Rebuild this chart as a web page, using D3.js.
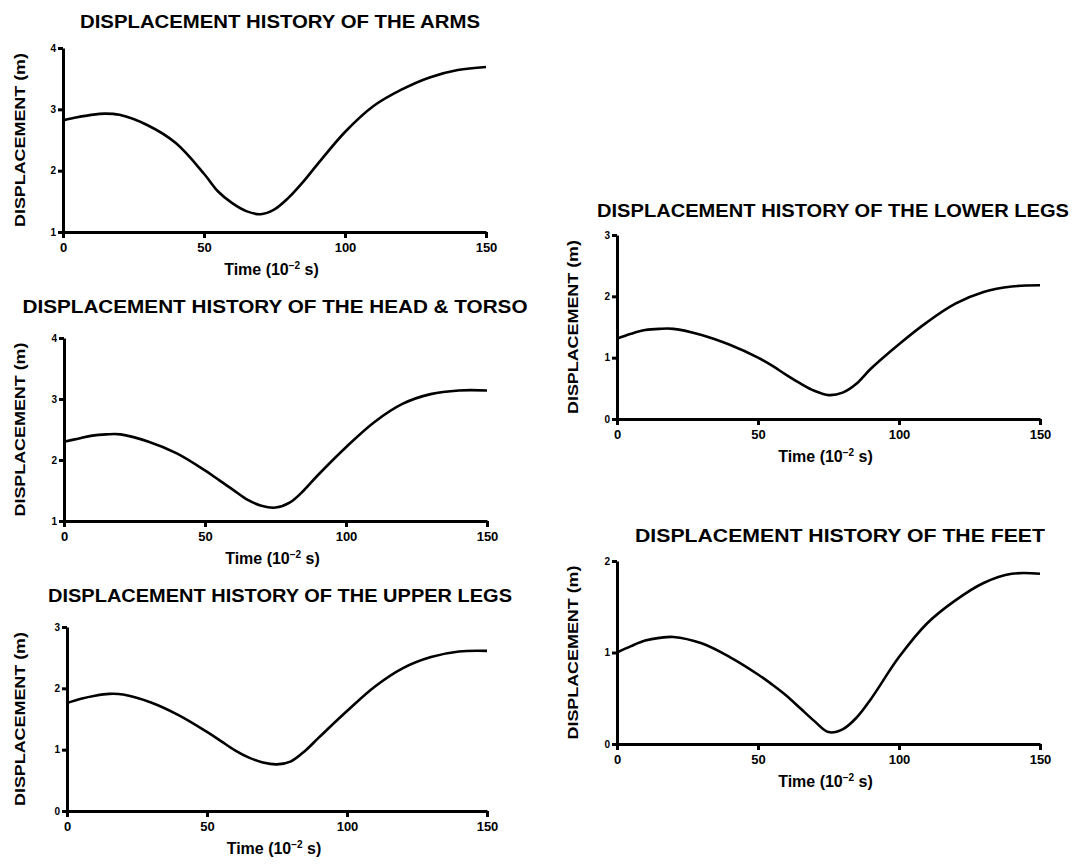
<!DOCTYPE html>
<html>
<head>
<meta charset="utf-8">
<script src="https://cdn.jsdelivr.net/npm/d3@7"></script>
<style>
  body { margin: 0; background: #fff; }
  svg { display: block; }
  text { font-family: "Liberation Sans", Arial, sans-serif; font-weight: bold; fill: #000; }
  .axis path.domain, .axis .tick line { stroke: #000; stroke-width: 3px; }
</style>
</head>
<body>
<div id="chart"></div>
<script>
// time samples (10^-2 s), shared by all five curves
const times = [0, 5, 10, 15, 20, 30, 40, 50, 55, 60, 65, 70, 75, 80, 85, 90, 100, 110, 120, 130, 140, 150];

// displacement (m)
const arms      = [2.82, 2.87, 2.91, 2.93, 2.91, 2.74, 2.45, 1.95, 1.66, 1.47, 1.34, 1.29, 1.37, 1.56, 1.81, 2.09, 2.63, 3.05, 3.32, 3.52, 3.64, 3.69];
const headTorso = [2.30, 2.35, 2.40, 2.42, 2.42, 2.30, 2.11, 1.83, 1.67, 1.51, 1.35, 1.25, 1.22, 1.30, 1.50, 1.75, 2.21, 2.62, 2.92, 3.08, 3.14, 3.14];
const upperLegs = [1.76, 1.83, 1.88, 1.91, 1.90, 1.77, 1.56, 1.29, 1.14, 0.99, 0.87, 0.79, 0.76, 0.81, 0.98, 1.20, 1.63, 2.03, 2.33, 2.51, 2.60, 2.61];
const lowerLegs = [1.31, 1.39, 1.45, 1.47, 1.47, 1.37, 1.21, 1.00, 0.87, 0.72, 0.58, 0.46, 0.39, 0.43, 0.58, 0.82, 1.22, 1.58, 1.88, 2.07, 2.16, 2.18];
const feet      = [1.00, 1.07, 1.13, 1.16, 1.17, 1.10, 0.95, 0.76, 0.65, 0.53, 0.39, 0.25, 0.13, 0.16, 0.29, 0.49, 0.95, 1.32, 1.57, 1.76, 1.86, 1.86];

const xTicks = [0, 50, 100, 150];

// panel layout: pixel boxes for each small chart
const panels = [
  { title: "DISPLACEMENT HISTORY OF THE ARMS", values: arms, yDom: [1, 4],
    x0: 63, x1: 486, yB: 232, yT: 48, tx: 280, ty: 28, tw: 400, lx: 20 },
  { title: "DISPLACEMENT HISTORY OF THE HEAD & TORSO", values: headTorso, yDom: [1, 4],
    x0: 64, x1: 487, yB: 521, yT: 338, tx: 275, ty: 313, tw: 505, lx: 20 },
  { title: "DISPLACEMENT HISTORY OF THE UPPER LEGS", values: upperLegs, yDom: [0, 3],
    x0: 67, x1: 487, yB: 811, yT: 627, tx: 280, ty: 602, tw: 464, lx: 20 },
  { title: "DISPLACEMENT HISTORY OF THE LOWER LEGS", values: lowerLegs, yDom: [0, 3],
    x0: 617, x1: 1040, yB: 419, yT: 235, tx: 833, ty: 217, tw: 472, lx: 573 },
  { title: "DISPLACEMENT HISTORY OF THE FEET", values: feet, yDom: [0, 2],
    x0: 617, x1: 1040, yB: 744, yT: 561, tx: 840, ty: 542, tw: 410, lx: 573 }
];

const W = 1082, H = 867;
const svg = d3.select("#chart").append("svg")
  .attr("width", W).attr("height", H)
  .attr("viewBox", `0 0 ${W} ${H}`);

panels.forEach(p => {
  const x = d3.scaleLinear().domain([0, 150]).range([p.x0, p.x1]);
  const y = d3.scaleLinear().domain(p.yDom).range([p.yB, p.yT]);
  const g = svg.append("g");

  // title
  g.append("text")
    .attr("x", p.tx).attr("y", p.ty)
    .attr("text-anchor", "middle")
    .attr("textLength", p.tw).attr("lengthAdjust", "spacingAndGlyphs")
    .style("font-size", "18px")
    .text(p.title);

  // axes
  const yTicks = d3.range(p.yDom[0], p.yDom[1] + 1);
  const yAxis = g.append("g")
    .attr("class", "axis")
    .attr("transform", `translate(${p.x0},0)`)
    .call(d3.axisLeft(y).tickValues(yTicks).tickFormat(d3.format("d")).tickSize(5).tickSizeOuter(0).tickPadding(2));
  yAxis.selectAll("text").style("font-size", "10px").attr("font-family", null);

  const xAxis = g.append("g")
    .attr("class", "axis")
    .attr("transform", `translate(0,${p.yB})`)
    .call(d3.axisBottom(x).tickValues(xTicks).tickSize(6).tickSizeOuter(0).tickPadding(5));
  xAxis.selectAll("text").style("font-size", "13px").attr("font-family", null);

  // axis titles
  const tl = g.append("text")
    .attr("x", (p.x0 + p.x1) / 2 - 3).attr("y", p.yB + 43)
    .attr("text-anchor", "middle")
    .style("font-size", "16px");
  tl.append("tspan").text("Time (10");
  tl.append("tspan").attr("dy", -6).style("font-size", "10px").text("\u22122");
  tl.append("tspan").attr("dy", 6).text(" s)");

  g.append("text")
    .attr("transform", `translate(${p.lx},${(p.yB + p.yT) / 2}) rotate(-90)`)
    .attr("text-anchor", "middle").attr("dy", "0.35em")
    .attr("textLength", 174).attr("lengthAdjust", "spacingAndGlyphs")
    .style("font-size", "14px")
    .text("DISPLACEMENT (m)");

  // curve
  const line = d3.line()
    .x((d, i) => x(times[i]))
    .y(d => y(d))
    .curve(d3.curveCatmullRom.alpha(0.5));

  g.append("path")
    .datum(p.values)
    .attr("fill", "none")
    .attr("stroke", "#000")
    .attr("stroke-width", 2.6)
    .attr("stroke-linejoin", "round")
    .attr("d", line);
});
</script>
</body>
</html>
